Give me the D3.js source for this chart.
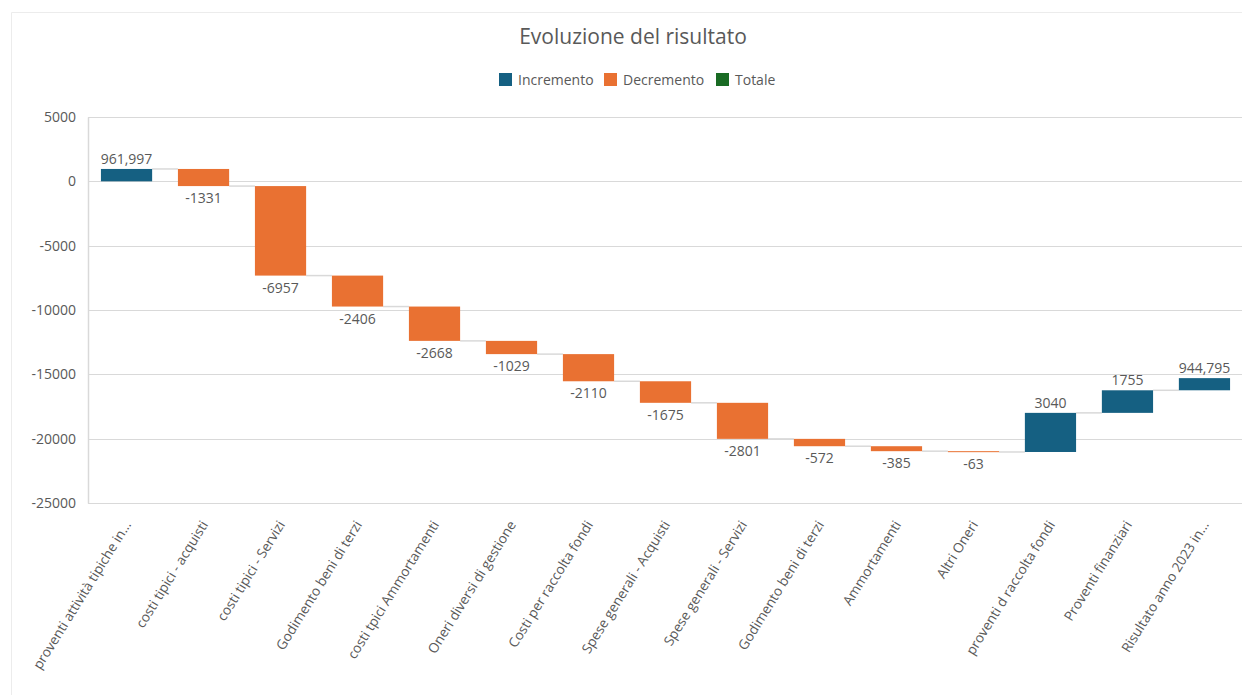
<!DOCTYPE html>
<html>
<head>
<meta charset="utf-8">
<script src="https://cdn.jsdelivr.net/npm/d3@7"></script>
<style>
  html, body { margin: 0; padding: 0; background: #fff; }
  svg { display: block; }
  text { font-family: "Open Sans", "Noto Sans", sans-serif; fill: #595959; }
</style>
</head>
<body>
<svg id="chart" width="1242" height="695"></svg>
<script>
// ---- data ----
const categories = [
  "proventi attività tipiche in...",
  "costi tipici - acquisti",
  "costi tipici - Servizi",
  "Godimento beni di terzi",
  "costi tpici Ammortamenti",
  "Oneri diversi di gestione",
  "Costi per raccolta fondi",
  "Spese generali - Acquisti",
  "Spese generali - Servizi",
  "Godimento beni di terzi",
  "Ammortamenti",
  "Altri Oneri",
  "proventi d raccolta fondi",
  "Proventi finanziari",
  "Risultato anno 2023 in..."
];
const values = [961.997, -1331, -6957, -2406, -2668, -1029, -2110, -1675, -2801, -572, -385, -63, 3040, 1755, 944.795];
const yTicks = [5000, 0, -5000, -10000, -15000, -20000, -25000];
const legendItems = ["Incremento", "Decremento", "Totale"];
const legendColors = ["#156082", "#E97132", "#196B24"];
const chartTitle = "Evoluzione del risultato";

// ---- layout ----
const svg = d3.select("#chart");
const W = 1242, H = 695;
const plot = { left: 88, right: 1243, top: 117, bottom: 503 };

// chart border
svg.append("path")
  .attr("d", `M11.5,${H} V12.5 H${W}`)
  .attr("fill", "none").attr("stroke", "#ececec").attr("stroke-width", 1);

// waterfall computation
let run = 0;
const bars = values.map((v, i) => {
  const start = run; run += v;
  return { i, cat: categories[i], v, start, end: run };
});

const x = d3.scaleBand().domain(d3.range(categories.length)).range([plot.left, plot.right]).paddingInner(0.335).paddingOuter(0.168);
const y = d3.scaleLinear().domain([-25000, 5000]).range([plot.bottom, plot.top]);

// gridlines
svg.append("g").selectAll("line").data(yTicks).join("line")
  .attr("x1", plot.left).attr("x2", W)
  .attr("y1", d => Math.round(y(d)) + 0.5).attr("y2", d => Math.round(y(d)) + 0.5)
  .attr("stroke", "#d9d9d9").attr("stroke-width", 1);

// y axis via d3.axisLeft
const yAxis = d3.axisLeft(y).tickValues(yTicks).tickSize(0).tickPadding(12).tickFormat(d => String(d).replace("−", "-"));
const gy = svg.append("g").attr("transform", `translate(${plot.left},0)`).call(yAxis);
gy.select(".domain").attr("stroke", "#d9d9d9").attr("stroke-width", 1.5);
gy.selectAll("text").style("font-size", "14px").attr("fill", "#595959");

// connectors
svg.append("g").selectAll("line").data(bars.slice(0, -1)).join("line")
  .attr("x1", d => x(d.i) + x.bandwidth())
  .attr("x2", d => x(d.i + 1))
  .attr("y1", d => y(d.end)).attr("y2", d => y(d.end))
  .attr("stroke", "#d9d9d9").attr("stroke-width", 1.5);

// bars
svg.append("g").selectAll("rect").data(bars).join("rect")
  .attr("x", d => x(d.i))
  .attr("width", x.bandwidth())
  .attr("y", d => y(Math.max(d.start, d.end)))
  .attr("height", d => Math.max(1, Math.abs(y(d.start) - y(d.end))))
  .attr("fill", d => d.v >= 0 ? legendColors[0] : legendColors[1]);

// data labels
const it = d3.formatLocale({ decimal: ",", thousands: ".", grouping: [3], currency: ["€", ""], minus: "-" });
const fmtInt = it.format("d"), fmtDec = it.format(".3f");
const fmt = v => Number.isInteger(v) ? fmtInt(v) : fmtDec(v);
svg.append("g").selectAll("text").data(bars).join("text")
  .attr("x", d => x(d.i) + x.bandwidth() / 2)
  .attr("y", d => d.v >= 0 ? y(Math.max(d.start, d.end)) - 5 : y(Math.min(d.start, d.end)) + 17)
  .attr("text-anchor", "middle")
  .style("font-size", "14px")
  .text(d => fmt(d.v));

// x labels
svg.append("g").selectAll("text").data(bars).join("text")
  .attr("transform", d => `translate(${x(d.i) + x.bandwidth() / 2 + 1},${plot.bottom + 19}) rotate(-58)`)
  .attr("text-anchor", "end")
  .attr("dy", "0.35em")
  .style("font-size", "13.6px")
  .text(d => d.cat);

// title
svg.append("text").attr("x", 633).attr("y", 44).attr("text-anchor", "middle")
  .style("font-size", "21px").text(chartTitle);

// legend
const legendX = [499, 604, 716];
const lg = svg.append("g").selectAll("g").data(legendItems).join("g")
  .attr("transform", (d, i) => `translate(${legendX[i]},73)`);
lg.append("rect").attr("width", 13).attr("height", 13).attr("fill", (d, i) => legendColors[i]);
lg.append("text").attr("x", 19).attr("y", 11.5).style("font-size", "14px").text(d => d);
</script>
</body>
</html>
